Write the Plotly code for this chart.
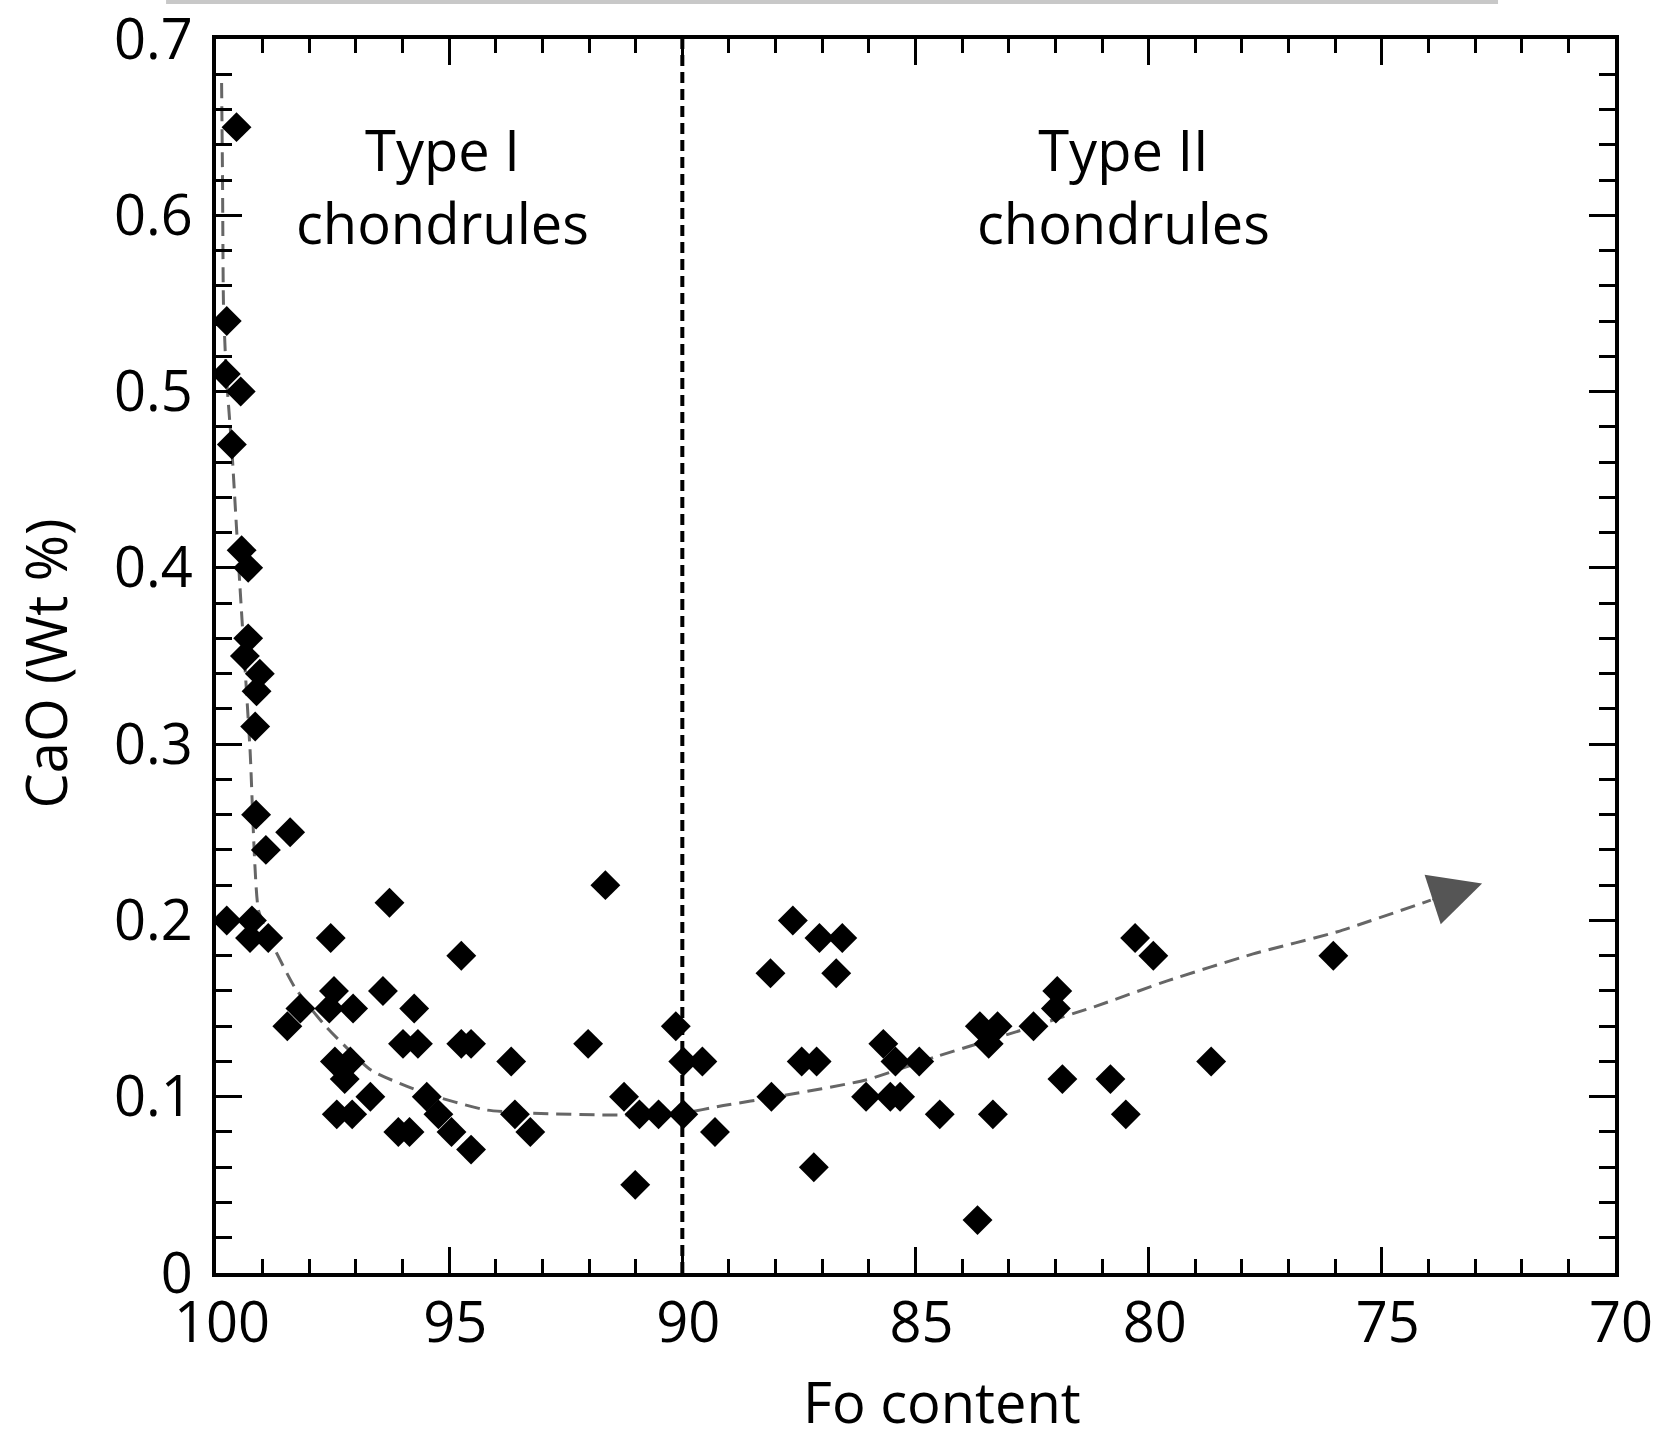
import plotly.graph_objects as go

# Olivine analyses: forsterite content (Fo) and CaO (wt %)
fo_content = [
    99.56, 99.77, 99.79, 99.47, 99.66, 99.45, 99.31, 99.31, 99.38, 99.06,
    99.13, 99.16, 99.14, 98.41, 98.93, 99.77, 99.23, 99.27, 98.88, 97.54,
    96.28, 98.47, 98.19, 97.57, 97.47, 97.06, 96.42, 95.75, 95.99, 95.67,
    94.74, 94.74, 94.53, 97.45, 97.12, 97.24, 97.41, 97.08, 96.69, 96.09,
    95.85, 95.48, 95.23, 94.95, 94.53, 93.67, 93.59, 93.26, 92.02, 91.65,
    91.25, 91.01, 90.92, 90.51, 90.14, 89.98, 89.98, 89.57, 89.30,
    88.11, 88.09, 87.63, 87.44, 87.12, 87.06, 87.18, 86.57, 86.70, 86.06,
    85.69, 85.43, 85.54, 85.33, 84.92, 84.48, 83.67, 83.62, 83.24, 83.43,
    83.34, 82.47, 81.96, 81.99, 81.85, 80.82, 80.49, 80.29, 79.90, 78.66,
    76.04,
]
cao_wt = [
    0.65, 0.54, 0.51, 0.50, 0.47, 0.41, 0.40, 0.36, 0.35, 0.34,
    0.33, 0.31, 0.26, 0.25, 0.24, 0.20, 0.20, 0.19, 0.19, 0.19,
    0.21, 0.14, 0.15, 0.15, 0.16, 0.15, 0.16, 0.15, 0.13, 0.13,
    0.18, 0.13, 0.13, 0.12, 0.12, 0.11, 0.09, 0.09, 0.10, 0.08,
    0.08, 0.10, 0.09, 0.08, 0.07, 0.12, 0.09, 0.08, 0.13, 0.22,
    0.10, 0.05, 0.09, 0.09, 0.14, 0.12, 0.09, 0.12, 0.08,
    0.17, 0.10, 0.20, 0.12, 0.12, 0.19, 0.06, 0.19, 0.17, 0.10,
    0.13, 0.12, 0.10, 0.10, 0.12, 0.09, 0.03, 0.14, 0.14, 0.13,
    0.09, 0.14, 0.16, 0.15, 0.11, 0.11, 0.09, 0.19, 0.18, 0.12,
    0.18,
]

# Hand-drawn trend through the data, ending with an arrow
trend_fo = [99.88, 99.86, 99.84, 99.78, 99.66, 99.49, 99.27, 99.09, 98.80,
            98.31, 97.65, 96.67, 95.52, 94.21, 93.22, 91.34, 90.02, 89.12,
            87.97, 86.06, 84.56, 83.06, 81.17, 79.57, 77.76, 75.95, 73.95]
trend_cao = [0.675, 0.62, 0.55, 0.51, 0.467, 0.391, 0.297, 0.206, 0.187,
             0.162, 0.140, 0.115, 0.102, 0.0925, 0.0906, 0.0896, 0.0906, 0.095,
             0.100, 0.1095, 0.1227, 0.135, 0.151, 0.166, 0.181, 0.1936, 0.2115]
arrow_tip = (72.85, 0.221)

# Type I / Type II boundary
boundary_fo = 90

x_ticks = [100, 95, 90, 85, 80, 75, 70]
y_ticks = [0, 0.1, 0.2, 0.3, 0.4, 0.5, 0.6, 0.7]

FONT = "Open Sans"

fig = go.Figure()

fig.add_trace(go.Scatter(
    x=trend_fo, y=trend_cao, mode="lines",
    line=dict(color="#666666", width=3, dash="15px,8px", shape="spline", smoothing=0.5),
    hoverinfo="skip", showlegend=False,
))

fig.add_trace(go.Scatter(
    x=fo_content, y=cao_wt, mode="markers",
    marker=dict(symbol="diamond", size=23, color="black", line=dict(width=0)),
    showlegend=False,
))

fig.add_shape(type="line", xref="x", yref="paper",
              x0=boundary_fo, x1=boundary_fo, y0=0, y1=1,
              line=dict(color="black", width=4, dash="11px,6px"))

# thin grey strip along the top edge
fig.add_shape(type="rect", xref="paper", yref="paper",
              x0=-0.0357, x1=0.9164, y0=1.0284, y1=1.0330,
              line=dict(width=0), fillcolor="#c8c8c8")

# arrow head at the end of the trend
fig.add_annotation(
    x=arrow_tip[0], y=arrow_tip[1], ax=trend_fo[-1], ay=trend_cao[-1],
    xref="x", yref="y", axref="x", ayref="y", text="",
    showarrow=True, arrowhead=2, arrowsize=5.2, arrowwidth=2, arrowcolor="#555555",
)

label_font = dict(family=FONT, size=56, color="black")
fig.add_annotation(x=95.14, y=0.617, xref="x", yref="y", text="Type I<br>chondrules",
                   showarrow=False, font=label_font, align="center")
fig.add_annotation(x=80.53, y=0.617, xref="x", yref="y", text="Type II<br>chondrules",
                   showarrow=False, font=label_font, align="center")

title_font = dict(family=FONT, size=56, color="black")
fig.add_annotation(x=0.519, y=-0.1035, xref="paper", yref="paper", text="Fo content",
                   showarrow=False, font=title_font, xanchor="center", yanchor="middle")
fig.add_annotation(x=-0.1222, y=0.494, xref="paper", yref="paper", text="CaO (Wt %)",
                   showarrow=False, font=title_font, textangle=-90,
                   xanchor="center", yanchor="middle")

axis_common = dict(
    ticks="inside", tickwidth=3, tickcolor="black", ticklen=26,
    showline=True, linewidth=4, linecolor="black", mirror="ticks",
    showgrid=False, zeroline=False, automargin=False,
    tickfont=dict(family=FONT, size=56, color="black"),
    ticklabeloverflow="allow",
)

fig.update_xaxes(range=[100, 70], tickvals=x_ticks, ticktext=[str(v) for v in x_ticks],
                 minor=dict(dtick=1, tick0=70, ticks="inside", ticklen=14, tickwidth=3,
                            tickcolor="black", showgrid=False),
                 ticklabelstandoff=-2, ticklabelshift=-6,
                 **axis_common)
fig.update_yaxes(range=[0, 0.7000001], tickvals=y_ticks, ticktext=[f"{v:g}" for v in y_ticks],
                 minor=dict(dtick=0.02, tick0=0, ticks="inside", ticklen=16, tickwidth=3,
                            tickcolor="black", showgrid=False),
                 ticklabelstandoff=8,
                 **axis_common)

fig.update_layout(
    width=1659, height=1437,
    margin=dict(l=216, r=44, t=39, b=164),
    paper_bgcolor="white", plot_bgcolor="white",
    showlegend=False,
)

fig.write_html("out.html")
